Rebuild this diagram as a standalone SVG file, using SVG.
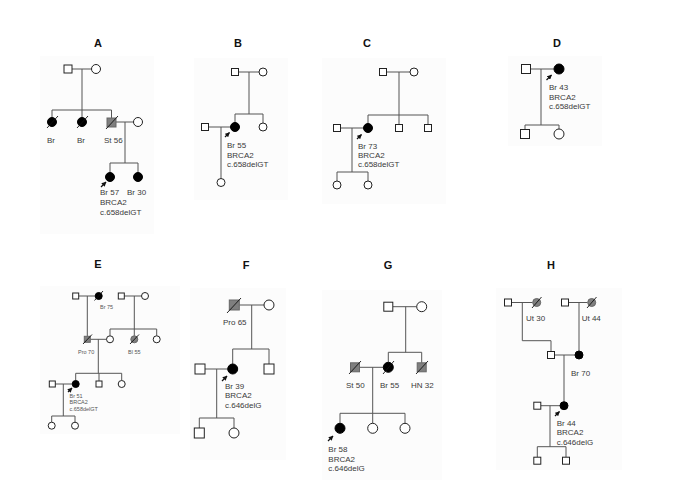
<svg xmlns="http://www.w3.org/2000/svg" width="685" height="484" viewBox="0 0 685 484">
<defs>
<marker id="ah" viewBox="0 0 10 10" refX="9" refY="5" markerWidth="4" markerHeight="4" orient="auto"><path d="M0,0 L10,5 L0,10 z" fill="#111"/></marker>
<style>
.bg{fill:#fcfcfc;stroke:none}
.ln{stroke:#555;stroke-width:1;fill:none}
.m{fill:#fff;stroke:#222;stroke-width:1}
.af{fill:#000;stroke:#000;stroke-width:1}
.gr{fill:#7f7f7f;stroke:#666;stroke-width:1}
.sl{stroke:#111;stroke-width:0.9}
.ar{stroke:#111;stroke-width:1.2;marker-end:url(#ah)}
.t{font-family:"Liberation Sans",Arial,sans-serif;font-size:8px;fill:#3a3a3a}
.ts{font-family:"Liberation Sans",Arial,sans-serif;font-size:5.5px;fill:#555}
.h{font-family:"Liberation Sans",Arial,sans-serif;font-size:11px;font-weight:bold;fill:#111;text-anchor:middle}
</style>
</defs>
<rect width="685" height="484" fill="#fff"/>
<g id="panels">
<rect class="bg" x="40" y="56" width="114" height="178"/>
<rect class="bg" x="194" y="58" width="94" height="142"/>
<rect class="bg" x="322" y="58" width="124" height="146"/>
<rect class="bg" x="508" y="56" width="94" height="90"/>
<rect class="bg" x="40" y="286" width="140" height="148"/>
<rect class="bg" x="190" y="288" width="96" height="172"/>
<rect class="bg" x="322" y="290" width="120" height="190"/>
<rect class="bg" x="496" y="288" width="126" height="182"/>
</g>
<g id="titles">
<text class="h" x="98" y="47">A</text>
<text class="h" x="238" y="47">B</text>
<text class="h" x="367" y="47">C</text>
<text class="h" x="557" y="47">D</text>
<text class="h" x="98" y="268">E</text>
<text class="h" x="246" y="269">F</text>
<text class="h" x="388" y="269">G</text>
<text class="h" x="551" y="269">H</text>
</g>
<g id="connectors">
<path class="ln" d="M72,69 H91.5 M82,69 V110 M52,110 H111.5 M52,110 V117.5 M82,110 V117.5 M111.5,110 V118 M116,122 H133.5 M125,122 V163 M110,163 H138 M110,163 V172.5 M138,163 V172.5"/>
<path class="ln" d="M238.5,72 H259 M249,72 V114 M235,114 H263 M235,114 V123 M263,114 V123 M208.5,127 H231 M221,127 V178.5"/>
<path class="ln" d="M386.5,72 H410 M399,72 V115 M368,115 H428 M368,115 V123.5 M399,115 V124.5 M428,115 V124.5 M340.5,128 H363.5 M352,128 V172 M337,172 H368 M337,172 V181 M368,172 V181"/>
<path class="ln" d="M530.5,69 H554 M541,69 V125 M525,125 H559 M525,125 V129.5 M559,125 V129"/>
<path class="ln" d="M78.7,296 H95.2 M87.3,296 V336.3 M124.3,296 H141.5 M134.3,296 V335.8 M110,329 H156.7 M110,329 V335.8 M156.7,329 V335.8 M90.3,339.3 H106.5 M98.3,339.3 V373.3 M75.7,373.3 H121.7 M75.7,373.3 V380.5 M99,373.3 V381 M121.7,373.3 V380.5 M55.3,384 H72.2 M63.3,384 V416 M51.7,416 H75 M51.7,416 V422.2 M75,416 V422.2"/>
<path class="ln" d="M239.3,305 H264 M251.7,305 V349 M232.7,349 H269 M232.7,349 V364 M269,349 V364 M205,369 H227.7 M216.7,369 V418 M199.3,418 H234 M199.3,418 V428 M234,418 V428"/>
<path class="ln" d="M393,306.7 H416.7 M405.7,306.7 V352.3 M388.3,352.3 H421.7 M388.3,352.3 V362.3 M421.7,352.3 V362.8 M359.5,367.3 H383.3 M372.7,367.3 V413.3 M340,413.3 H405 M340,413.3 V423.3 M372.7,413.3 V423.3 M405,413.3 V423.3"/>
<path class="ln" d="M511.5,302.5 H532.5 M522.3,302.5 V340.7 H551 V351.5 M568.5,302.5 H587.5 M579,302.5 V351 M554.5,355 H575 M564,355 V401.7 M540.8,405.7 H560 M550,405.7 V446.7 M537.3,446.7 H566 M537.3,446.7 V457.2 M566,446.7 V457.2"/>
</g>
<g id="A">
<g id="A1"><rect class="m" x="64" y="65" width="8" height="8"/></g>
<g id="A2"><circle class="m" cx="96" cy="69" r="4.5"/></g>
<g id="A3"><circle class="af" cx="52" cy="122" r="4.5"/><line class="sl" x1="47" y1="128" x2="58" y2="116"/><text class="t" x="47" y="143">Br</text></g>
<g id="A4"><circle class="af" cx="82" cy="122" r="4.5"/><line class="sl" x1="77" y1="128" x2="88" y2="116"/><text class="t" x="77" y="143">Br</text></g>
<g id="A5"><rect class="gr" x="107" y="118" width="9" height="9"/><line class="sl" x1="106" y1="129" x2="118" y2="116"/><text class="t" x="104" y="143">St 56</text></g>
<g id="A6"><circle class="m" cx="138" cy="122" r="4.5"/></g>
<g id="A7"><circle class="af" cx="110" cy="177" r="4.5"/><line class="ar" x1="101" y1="187" x2="106" y2="182"/><text class="t" x="100" y="195">Br 57</text><text class="t" x="100" y="205">BRCA2</text><text class="t" x="100" y="215">c.658delGT</text></g>
<g id="A8"><circle class="af" cx="138" cy="177" r="4.5"/><text class="t" x="127" y="195">Br 30</text></g>
</g>
<g id="B">
<g id="B1"><rect class="m" x="231.5" y="68.5" width="7" height="7"/></g>
<g id="B2"><circle class="m" cx="263" cy="72" r="4"/></g>
<g id="B3"><circle class="af" cx="235" cy="127" r="4.5"/><line class="ar" x1="225" y1="137" x2="229.5" y2="132.5"/><text class="t" x="227" y="148">Br 55</text><text class="t" x="227" y="157.5">BRCA2</text><text class="t" x="227" y="167">c.658delGT</text></g>
<g id="B4"><circle class="m" cx="263" cy="127" r="4"/></g>
<g id="B5"><rect class="m" x="201.5" y="123.5" width="7" height="7"/></g>
<g id="B6"><circle class="m" cx="221" cy="182.5" r="4"/></g>
</g>
<g id="C">
<g id="C1"><rect class="m" x="379.5" y="68.5" width="7" height="7"/></g>
<g id="C2"><circle class="m" cx="414" cy="72" r="4"/></g>
<g id="C3"><circle class="af" cx="368" cy="128" r="4.5"/><line class="ar" x1="357" y1="139" x2="361.5" y2="134.5"/><text class="t" x="358" y="149">Br 73</text><text class="t" x="358" y="158">BRCA2</text><text class="t" x="358" y="167">c.658delGT</text></g>
<g id="C4"><rect class="m" x="395.5" y="124.5" width="7" height="7"/></g>
<g id="C5"><rect class="m" x="424.5" y="124.5" width="7" height="7"/></g>
<g id="C6"><rect class="m" x="333.5" y="124.5" width="7" height="7"/></g>
<g id="C7"><circle class="m" cx="337" cy="185" r="4"/></g>
<g id="C8"><circle class="m" cx="368" cy="185" r="4"/></g>
</g>
<g id="D">
<g id="D1"><rect class="m" x="521.5" y="64.5" width="9" height="9"/></g>
<g id="D2"><circle class="af" cx="559" cy="69" r="5"/><line class="ar" x1="546.5" y1="80" x2="551.5" y2="75"/><text class="t" x="549" y="90">Br 43</text><text class="t" x="549" y="99.5">BRCA2</text><text class="t" x="549" y="109">c.658delGT</text></g>
<g id="D3"><rect class="m" x="520.5" y="129.5" width="9" height="9"/></g>
<g id="D4"><circle class="m" cx="559" cy="134" r="5"/></g>
</g>
<g id="E">
<g id="E1"><rect class="m" x="72.7" y="293" width="6" height="6"/></g>
<g id="E2"><circle class="af" cx="98.7" cy="296" r="3.5"/><line class="sl" x1="94.5" y1="300.5" x2="103" y2="291"/><text class="ts" x="100" y="309">Br 75</text></g>
<g id="E3"><rect class="m" x="118.3" y="293" width="6" height="6"/></g>
<g id="E4"><circle class="m" cx="145" cy="296" r="3.5"/></g>
<g id="E5"><rect class="gr" x="84.3" y="336.3" width="6" height="6"/><line class="sl" x1="83" y1="344" x2="92" y2="334.5"/><text class="ts" x="78" y="353.5">Pro 70</text></g>
<g id="E6"><circle class="m" cx="110" cy="339.3" r="3.5"/></g>
<g id="E7"><circle class="gr" cx="134.3" cy="339.3" r="3.5"/><line class="sl" x1="130" y1="344" x2="139" y2="334.5"/><text class="ts" x="128" y="353.5">Bl 55</text></g>
<g id="E8"><circle class="m" cx="156.7" cy="339.3" r="3.5"/></g>
<g id="E9"><circle class="af" cx="75.7" cy="384" r="3.5"/><line class="ar" x1="68" y1="392" x2="72" y2="388"/><text class="ts" x="69.5" y="397.5">Br 51</text><text class="ts" x="69.5" y="404">BRCA2</text><text class="ts" x="69.5" y="410.5">c.658delGT</text></g>
<g id="E10"><rect class="m" x="96" y="381" width="6" height="6"/></g>
<g id="E11"><circle class="m" cx="121.7" cy="384" r="3.5"/></g>
<g id="E12"><rect class="m" x="49.3" y="381" width="6" height="6"/></g>
<g id="E13"><circle class="m" cx="51.7" cy="425.7" r="3.5"/></g>
<g id="E14"><circle class="m" cx="75" cy="425.7" r="3.5"/></g>
</g>
<g id="F">
<g id="F1"><rect class="gr" x="229.3" y="300" width="10" height="10"/><line class="sl" x1="227" y1="313" x2="241" y2="298"/><text class="t" x="223" y="324.5">Pro 65</text></g>
<g id="F2"><circle class="m" cx="269" cy="305" r="5"/></g>
<g id="F3"><circle class="af" cx="232.7" cy="369" r="5"/><line class="ar" x1="222" y1="381" x2="227" y2="376"/><text class="t" x="225" y="388.5">Br 39</text><text class="t" x="225" y="398">BRCA2</text><text class="t" x="225" y="407.5">c.646delG</text></g>
<g id="F4"><rect class="m" x="264" y="364" width="10" height="10"/></g>
<g id="F5"><rect class="m" x="195" y="364" width="10" height="10"/></g>
<g id="F6"><rect class="m" x="194.3" y="428" width="10" height="10"/></g>
<g id="F7"><circle class="m" cx="234" cy="433" r="5"/></g>
</g>
<g id="G">
<g id="G1"><rect class="m" x="383.8" y="302.2" width="9" height="9"/></g>
<g id="G2"><circle class="m" cx="421.7" cy="306.7" r="5"/></g>
<g id="G3"><rect class="gr" x="350.5" y="362.8" width="9" height="9"/><line class="sl" x1="349" y1="374" x2="361" y2="361"/><text class="t" x="346" y="388">St 50</text></g>
<g id="G4"><circle class="af" cx="388.3" cy="367.3" r="5"/><line class="sl" x1="383" y1="374" x2="394" y2="361"/><text class="t" x="380" y="388">Br 55</text></g>
<g id="G5"><rect class="gr" x="417.2" y="362.8" width="9" height="9"/><line class="sl" x1="416" y1="374" x2="428" y2="361"/><text class="t" x="411" y="388">HN 32</text></g>
<g id="G6"><circle class="af" cx="340" cy="428.3" r="5"/><line class="ar" x1="328" y1="441" x2="333" y2="436"/><text class="t" x="328.3" y="452">Br 58</text><text class="t" x="328.3" y="461.5">BRCA2</text><text class="t" x="328.3" y="471">c.646delG</text></g>
<g id="G7"><circle class="m" cx="372.7" cy="428.3" r="5"/></g>
<g id="G8"><circle class="m" cx="405" cy="428.3" r="5"/></g>
</g>
<g id="H">
<g id="H1"><rect class="m" x="504.5" y="299" width="7" height="7"/></g>
<g id="H2"><circle class="gr" cx="536.7" cy="302.5" r="4"/><line class="sl" x1="532" y1="308" x2="541.5" y2="297"/><text class="t" x="526" y="321">Ut 30</text></g>
<g id="H3"><rect class="m" x="561.5" y="299" width="7" height="7"/></g>
<g id="H4"><circle class="gr" cx="591.7" cy="302.5" r="4"/><line class="sl" x1="587" y1="308" x2="596.5" y2="297"/><text class="t" x="581.7" y="321">Ut 44</text></g>
<g id="H5"><rect class="m" x="547.5" y="351.5" width="7" height="7"/></g>
<g id="H6"><circle class="af" cx="579" cy="355" r="4"/><text class="t" x="571" y="375.5">Br 70</text></g>
<g id="H7"><circle class="af" cx="564" cy="405.7" r="4"/><line class="ar" x1="555" y1="416" x2="559.5" y2="411.5"/><text class="t" x="556.7" y="426">Br 44</text><text class="t" x="556.7" y="435">BRCA2</text><text class="t" x="556.7" y="444.5">c.646delG</text></g>
<g id="H8"><rect class="m" x="533.8" y="402.2" width="7" height="7"/></g>
<g id="H9"><rect class="m" x="533.8" y="457.2" width="7" height="7"/></g>
<g id="H10"><rect class="m" x="562.5" y="457.2" width="7" height="7"/></g>
</g>
</svg>
